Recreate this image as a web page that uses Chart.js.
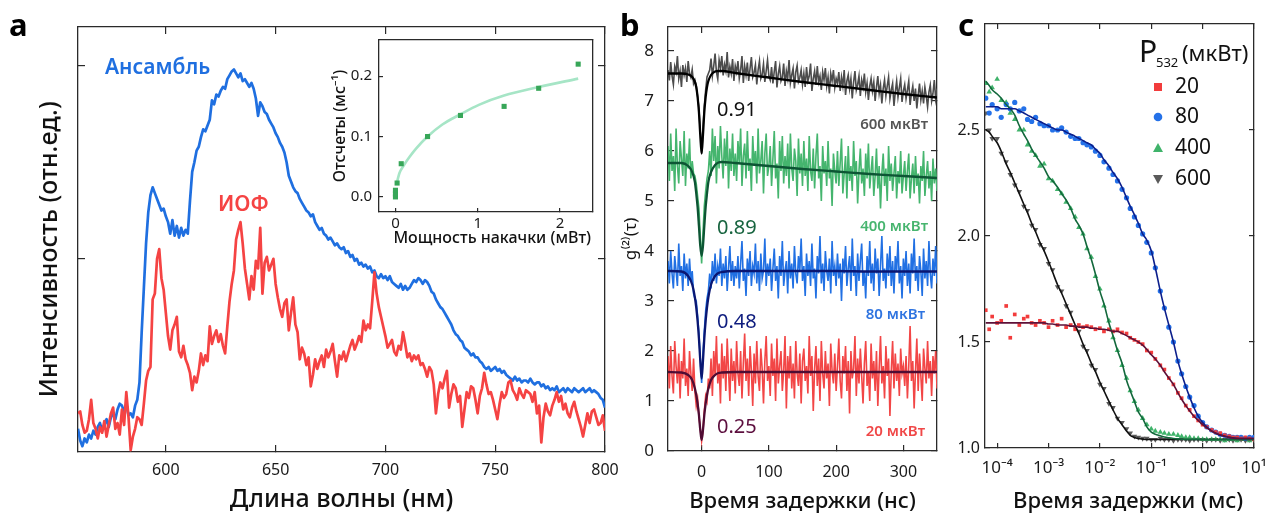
<!DOCTYPE html>
<html><head><meta charset="utf-8">
<script src="https://cdn.jsdelivr.net/npm/chart.js@4.4.1/dist/chart.umd.min.js"></script>
<style>
html,body{margin:0;padding:0;background:#fff;}
#wrap{position:relative;width:1278px;height:517px;overflow:hidden;background:#fff;}
canvas{position:absolute;}
</style></head><body>
<div id="wrap">
<canvas id="ca" width="620" height="517" style="left:0;top:0"></canvas>
<canvas id="ci" width="300" height="225" style="left:300px;top:30px"></canvas>
<canvas id="cb" width="350" height="517" style="left:600px;top:0"></canvas>
<canvas id="cc" width="328" height="517" style="left:950px;top:0"></canvas>
</div>
<script>
// ---------------- Panel a: spectra ----------------
const wavelengthStartNm = 560, wavelengthStepNm = 1;
const ensembleIntensity = [
0.12,0.06,0.03,0.07,0.05,0.09,0.07,0.11,0.09,0.13,
0.15,0.11,0.14,0.17,0.13,0.18,0.2,0.17,0.22,0.25,
0.24,0.21,0.25,0.19,0.2,0.18,0.24,0.27,0.36,0.62,
0.85,1.08,1.24,1.33,1.37,1.34,1.31,1.28,1.25,1.26,
1.22,1.19,1.13,1.2,1.12,1.17,1.11,1.16,1.12,1.15,
1.13,1.3,1.45,1.5,1.56,1.58,1.63,1.67,1.66,1.69,
1.72,1.82,1.8,1.85,1.84,1.87,1.89,1.88,1.93,1.95,
1.97,1.98,1.96,1.94,1.96,1.92,1.93,1.91,1.89,1.91,
1.88,1.83,1.74,1.81,1.79,1.76,1.75,1.72,1.7,1.68,
1.65,1.63,1.6,1.58,1.55,1.5,1.43,1.4,1.37,1.35,
1.34,1.31,1.29,1.27,1.25,1.24,1.22,1.23,1.19,1.17,
1.15,1.16,1.13,1.12,1.1,1.11,1.09,1.07,1.08,1.06,
1.05,1.06,1.03,1.04,1.01,1.02,0.99,1.0,0.97,0.98,
0.96,0.97,0.95,0.96,0.93,0.94,0.91,0.9,0.92,0.9,
0.91,0.89,0.91,0.88,0.87,0.86,0.85,0.87,0.84,0.86,
0.84,0.85,0.87,0.89,0.88,0.9,0.89,0.87,0.89,0.88,
0.86,0.83,0.82,0.79,0.77,0.75,0.74,0.72,0.7,0.68,
0.66,0.63,0.61,0.6,0.58,0.57,0.54,0.53,0.52,0.5,
0.51,0.49,0.49,0.47,0.46,0.44,0.43,0.44,0.42,0.43,
0.44,0.42,0.43,0.41,0.42,0.4,0.39,0.38,0.37,0.39,
0.37,0.38,0.36,0.37,0.37,0.36,0.38,0.36,0.35,0.36,
0.36,0.34,0.35,0.33,0.34,0.32,0.33,0.32,0.34,0.31,
0.32,0.33,0.31,0.33,0.32,0.31,0.33,0.32,0.31,0.32,
0.33,0.31,0.32,0.33,0.31,0.32,0.31,0.3,0.28,0.27,
0.23];
const singlePhotonIntensity = [
0.2,0.21,0.14,0.1,0.11,0.17,0.27,0.15,0.12,0.07,
0.13,0.1,0.16,0.08,0.14,0.2,0.23,0.12,0.15,0.09,
0.22,0.14,0.31,0.18,0.01,0.08,0.12,0.18,0.17,0.14,
0.25,0.37,0.42,0.44,0.79,0.82,1.0,1.05,0.9,0.84,
0.72,0.6,0.53,0.63,0.66,0.7,0.52,0.49,0.55,0.48,
0.45,0.41,0.32,0.39,0.36,0.42,0.51,0.45,0.5,0.47,
0.65,0.56,0.6,0.63,0.57,0.61,0.55,0.51,0.65,0.78,
0.87,0.94,1.1,1.15,1.19,1.08,0.95,0.87,0.79,0.91,
0.84,0.99,0.95,1.16,0.82,0.98,1.01,0.94,0.97,1.0,
0.87,0.8,0.74,0.7,0.77,0.79,0.63,0.72,0.8,0.66,
0.62,0.48,0.54,0.51,0.45,0.49,0.34,0.4,0.48,0.43,
0.47,0.5,0.44,0.53,0.49,0.52,0.56,0.47,0.39,0.5,
0.48,0.52,0.47,0.51,0.55,0.58,0.53,0.56,0.6,0.57,
0.68,0.63,0.66,0.64,0.78,0.93,0.82,0.75,0.7,0.65,
0.6,0.54,0.56,0.58,0.52,0.5,0.55,0.53,0.62,0.56,
0.49,0.51,0.47,0.5,0.48,0.5,0.45,0.46,0.43,0.39,
0.44,0.42,0.35,0.2,0.3,0.36,0.33,0.38,0.42,0.23,
0.3,0.35,0.33,0.26,0.29,0.13,0.22,0.31,0.28,0.34,
0.33,0.27,0.2,0.29,0.33,0.41,0.35,0.3,0.31,0.27,
0.22,0.17,0.25,0.31,0.28,0.3,0.36,0.37,0.32,0.3,
0.27,0.33,0.3,0.28,0.32,0.31,0.3,0.26,0.31,0.2,
0.24,0.05,0.18,0.25,0.21,0.19,0.24,0.27,0.31,0.26,
0.29,0.22,0.25,0.2,0.18,0.23,0.26,0.21,0.17,0.13,
0.08,0.14,0.2,0.15,0.21,0.22,0.18,0.14,0.15,0.19,
0.11];
const wavelengthTicks = [600, 650, 700, 750, 800];
const intensityTicks = [1, 2];

// inset
const pumpPowerMw = [0, 0, 0, 0.02, 0.07, 0.39, 0.79, 1.32, 1.74, 2.22];
const countsPerMs = [0.0, 0.005, 0.011, 0.023, 0.055, 0.1, 0.135, 0.15, 0.18, 0.22];
const fitPumpPowerMw = [0.01, 0.05, 0.1, 0.17, 0.25, 0.39, 0.57, 0.79, 1.02, 1.32, 1.74, 2.22];
const fitCountsPerMs = [0.02, 0.04, 0.052, 0.066, 0.08, 0.1, 0.12, 0.137, 0.153, 0.168, 0.182, 0.196];
const insetXTicks = [0, 1, 2];
const insetYTicks = [0, 0.1, 0.2];
const insetYLabels = ['0.0', '0.1', '0.2'];

// ---------------- Panel b: g2(tau) ----------------
const delayStartNs = -50, delayStepNs = 2;
const g2_600 = [
7.62,7.41,7.78,7.5,7.33,7.69,7.58,7.9,7.45,7.6,7.28,7.72,7.52,7.66,7.38,7.8,7.55,7.47,7.63,7.35,
7.42,7.3,7.1,6.85,6.4,5.95,6.45,6.9,7.22,7.48,7.55,
7.62,7.85,7.5,7.7,7.95,7.58,7.44,7.82,7.66,7.9,7.51,7.73,7.6,7.98,7.47,7.69,7.55,7.84,7.4,7.7,
7.58,7.8,7.45,7.62,7.9,7.36,7.7,7.52,7.77,7.4,7.65,7.88,7.48,7.57,7.72,7.33,7.62,7.8,7.45,7.53,7.74,7.38,7.6,7.82,7.5,
7.42,7.68,7.35,7.59,7.8,7.27,7.55,7.7,7.4,7.48,7.75,7.3,7.6,7.45,7.82,7.36,7.52,7.65,7.25,7.58,7.71,7.39,7.47,7.62,7.33,
7.55,7.28,7.68,7.4,7.5,7.75,7.2,7.45,7.6,7.32,7.7,7.38,7.5,7.22,7.58,7.42,7.66,7.3,7.48,7.15,7.55,7.4,7.62,7.27,7.45,
7.35,7.58,7.2,7.48,7.3,7.62,7.12,7.4,7.52,7.25,7.45,7.05,7.38,7.6,7.22,7.33,7.5,7.1,7.42,7.28,7.55,7.18,7.36,7.02,7.3,
7.45,7.2,7.38,7.0,7.28,7.5,7.15,7.32,6.95,7.25,7.42,7.1,7.3,7.48,7.05,7.22,7.35,6.9,7.18,7.4,7.08,7.27,7.45,6.98,7.2,
7.33,7.05,7.22,7.4,6.92,7.15,7.3,7.0,7.25,6.85,7.12,7.35,7.02,7.2,6.95,7.28,7.1,6.88,7.18,7.32,7.0,7.15,7.42,7.05,7.25];
const g2_400 = [
6.1,5.4,6.35,5.6,5.9,5.2,6.45,5.7,5.35,6.2,5.85,5.5,6.4,5.3,5.95,5.65,6.25,5.45,5.8,5.55,
5.5,5.35,5.1,4.85,4.3,3.75,4.35,4.9,5.2,5.45,5.6,
6.0,5.5,6.45,5.8,6.3,5.35,6.1,5.65,6.5,5.9,5.45,6.25,5.7,6.4,5.25,6.05,5.6,6.35,5.5,5.95,
5.4,6.2,5.75,6.45,5.3,5.9,6.15,5.45,6.4,5.6,5.85,5.2,6.3,5.7,6.0,5.35,6.45,5.55,5.8,6.2,5.15,5.95,6.35,5.5,5.7,
6.1,5.3,5.85,6.4,5.45,5.75,5.05,6.2,5.6,6.3,5.35,5.9,5.5,6.15,5.25,6.35,5.65,5.4,6.05,5.8,5.1,6.25,5.55,5.95,5.3,
6.2,5.5,5.85,5.2,6.3,5.6,5.4,6.05,5.25,5.9,6.35,5.45,5.7,5.0,6.1,5.55,5.8,5.3,6.2,5.45,5.65,4.9,5.95,5.6,5.35,
6.0,5.3,5.75,6.25,5.15,5.55,5.9,5.05,6.1,5.4,5.7,5.2,6.2,5.5,5.8,4.95,5.6,6.05,5.35,5.65,5.1,5.95,5.45,6.15,5.25,
5.6,5.9,5.1,5.5,6.05,5.25,5.7,4.85,5.55,5.95,5.3,5.65,5.0,6.1,5.4,5.75,5.2,5.55,5.9,5.05,5.6,5.35,6.0,5.15,5.5,
5.8,5.2,5.6,5.95,5.05,5.45,5.75,5.15,5.9,5.3,5.55,4.95,5.7,5.4,6.0,5.1,5.5,5.8,5.25,5.6,5.0,5.85,5.35,5.65,5.2];
const g2_80 = [
3.8,3.35,4.0,3.55,3.25,3.9,3.6,3.3,4.15,3.5,3.7,3.2,3.95,3.45,3.75,3.3,3.85,3.4,3.6,3.15,
3.05,3.0,2.7,2.35,1.85,1.36,1.95,2.4,2.8,3.05,3.2,
3.55,3.25,3.8,3.4,3.95,3.35,3.7,3.5,4.05,3.3,3.75,3.45,3.9,3.2,3.65,4.1,3.4,3.8,3.3,3.7,
3.45,3.9,3.25,3.75,4.2,3.4,3.65,3.1,3.85,3.5,4.0,3.3,3.7,3.55,4.15,3.35,3.8,3.2,3.95,3.45,3.6,4.25,3.3,3.75,3.5,
3.85,3.2,3.65,4.05,3.4,3.7,3.05,3.9,3.5,4.2,3.3,3.6,3.8,3.15,4.0,3.45,3.75,3.25,4.1,3.55,3.35,3.9,3.6,4.25,3.4,
3.7,3.1,3.95,3.5,3.8,3.3,4.15,3.45,3.65,3.05,3.9,3.55,4.3,3.35,3.75,3.2,4.0,3.6,3.4,3.85,3.15,4.2,3.5,3.7,3.3,
3.95,3.45,3.75,3.0,3.85,3.55,4.1,3.3,3.65,3.9,3.2,4.25,3.5,3.7,3.1,3.95,3.4,3.8,4.15,3.3,3.6,3.05,3.9,3.5,4.2,
3.35,3.75,3.2,4.05,3.55,3.85,3.1,3.7,4.3,3.4,3.65,3.25,3.95,3.5,4.1,3.3,3.8,3.15,3.9,3.6,4.2,3.35,3.7,3.05,3.85,
3.5,4.0,3.3,3.75,3.15,3.95,3.55,4.25,3.4,3.7,3.2,3.9,3.6,3.1,4.05,3.45,3.8,3.3,4.2,3.55,3.25,3.85,3.5,4.1,3.35];
const g2_20 = [
1.9,1.25,2.1,1.5,1.15,2.2,1.7,1.35,1.95,1.05,1.8,1.45,2.25,1.3,1.65,1.1,2.0,1.55,1.2,1.85,
1.2,0.9,1.05,0.7,0.45,0.2,0.4,0.8,1.1,1.0,1.45,
1.25,1.85,1.1,2.0,1.5,2.3,1.35,1.75,0.95,2.15,1.45,1.9,1.2,2.25,1.6,1.0,2.05,1.4,1.8,1.15,
2.2,1.55,1.3,2.0,1.05,1.75,2.35,1.4,1.85,1.1,2.1,1.6,0.9,1.95,1.35,2.2,1.5,1.2,2.05,1.65,0.95,1.8,2.3,1.4,1.7,
1.1,2.15,1.5,1.85,1.0,2.25,1.35,1.7,2.0,1.2,1.6,2.3,0.85,1.9,1.45,2.1,1.25,1.75,1.05,2.2,1.55,1.3,1.95,0.95,1.8,
2.05,1.4,1.7,1.15,2.3,1.5,1.9,0.8,1.65,2.1,1.3,1.85,1.0,2.2,1.55,1.25,2.0,1.45,1.75,0.9,2.15,1.6,1.35,1.95,1.2,
1.7,2.25,1.4,1.05,1.9,1.55,2.1,1.2,1.8,0.75,2.0,1.45,1.65,2.3,1.1,1.85,1.35,2.05,1.5,0.95,1.75,2.2,1.3,1.6,1.0,
2.15,1.45,1.8,1.2,2.0,0.9,1.65,2.3,1.35,1.7,1.05,2.1,1.5,1.85,0.7,1.6,2.2,1.25,1.95,1.4,1.75,1.1,2.05,1.55,1.7,
1.3,1.9,1.05,1.7,2.5,1.4,1.8,0.85,1.6,2.25,1.2,1.95,1.5,1.0,2.05,1.65,1.35,2.2,1.45,1.8,1.1,1.9,1.55,2.0,1.25];
const fitDelayNs = [-50,-30,-20,-14,-10,-8,-6,-4,-2,0,2,4,6,8,10,14,20,25,30,50,100,150,200,250,300,350];
const fit_600 = [7.55,7.55,7.53,7.48,7.38,7.28,7.08,6.78,6.32,5.95,6.32,6.78,7.08,7.28,7.4,7.52,7.59,7.6,7.6,7.56,7.47,7.38,7.3,7.22,7.14,7.07];
const fit_400 = [5.76,5.76,5.7,5.58,5.38,5.15,4.88,4.5,4.1,3.9,4.1,4.5,4.88,5.15,5.38,5.58,5.72,5.77,5.78,5.76,5.7,5.64,5.59,5.54,5.5,5.46];
const fit_80 = [3.6,3.59,3.5,3.33,3.07,2.87,2.6,2.25,1.8,1.45,1.8,2.25,2.6,2.87,3.07,3.33,3.5,3.56,3.58,3.6,3.6,3.6,3.6,3.59,3.59,3.59];
const fit_20 = [1.58,1.57,1.52,1.42,1.25,1.12,0.95,0.72,0.42,0.22,0.42,0.72,0.95,1.12,1.25,1.42,1.52,1.56,1.57,1.58,1.58,1.58,1.58,1.58,1.58,1.58];
const delayTicksNs = [0, 100, 200, 300];
const g2Ticks = [0, 1, 2, 3, 4, 5, 6, 7, 8];

// ---------------- Panel c: long-time g2 ----------------
const delayMs = [6e-5,7e-5,8e-5,
1e-4,1.2e-4,1.5e-4,1.8e-4,2.2e-4,2.7e-4,3.3e-4,3.9e-4,4.7e-4,5.6e-4,6.8e-4,8.2e-4,
1e-3,1.2e-3,1.5e-3,1.8e-3,2.2e-3,2.7e-3,3.3e-3,3.9e-3,4.7e-3,5.6e-3,6.8e-3,8.2e-3,
1e-2,1.2e-2,1.5e-2,1.8e-2,2.2e-2,2.7e-2,3.3e-2,3.9e-2,4.7e-2,5.6e-2,6.8e-2,8.2e-2,
0.1,0.12,0.15,0.18,0.22,0.27,0.33,0.39,0.47,0.56,0.68,0.82,
1,1.2,1.5,1.8,2.2,2.7,3.3,3.9,4.7,5.6,6.8,8.2,10];
const pts_20 = [1.65,1.56,1.62,1.59,1.6,1.67,1.52,1.63,1.58,1.61,1.62,1.59,1.58,1.6,1.59,
1.57,1.6,1.58,1.61,1.57,1.58,1.56,1.58,1.57,1.575,1.57,1.56,1.565,1.55,1.56,1.55,1.56,1.545,1.54,1.52,1.51,
1.5,1.49,1.46,1.45,1.42,1.39,1.37,1.33,1.3,1.26,1.235,1.2,1.18,1.15,1.13,1.11,1.1,1.085,1.075,1.07,1.06,1.055,1.05,1.05,1.045,1.05,1.045,1.04];
const pts_80 = [2.65,2.58,2.62,2.6,2.56,2.62,2.6,2.63,2.59,2.6,2.55,2.54,2.56,2.53,2.52,
2.52,2.5,2.5,2.51,2.49,2.47,2.46,2.46,2.44,2.43,2.42,2.4,2.38,2.35,2.32,2.29,2.26,2.22,2.18,2.13,2.09,
2.05,2.01,1.97,1.92,1.85,1.74,1.66,1.57,1.5,1.41,1.35,1.29,1.24,1.2,1.15,1.12,1.1,1.085,1.075,1.065,1.06,1.055,1.05,1.05,1.05,1.045,1.05,1.05];
const pts_400 = [2.72,2.68,2.7,2.74,2.64,2.63,2.58,2.55,2.5,2.5,2.43,2.4,2.38,2.33,2.34,
2.27,2.26,2.22,2.2,2.16,2.13,2.09,2.04,2.01,1.94,1.9,1.81,1.75,1.67,1.6,1.52,1.46,1.39,1.33,1.27,1.22,
1.18,1.14,1.11,1.09,1.08,1.075,1.07,1.065,1.065,1.06,1.055,1.05,1.05,1.045,1.045,1.04,1.04,1.04,1.04,1.04,1.035,1.04,1.04,1.035,1.04,1.04,1.035,1.04];
const pts_600 = [2.58,2.5,2.46,2.46,2.39,2.35,2.29,2.24,2.21,2.14,2.12,2.05,2.03,1.96,1.94,
1.87,1.84,1.76,1.74,1.67,1.64,1.57,1.55,1.48,1.46,1.39,1.37,1.3,1.28,1.21,1.19,1.14,1.12,1.09,1.07,1.055,
1.05,1.045,1.045,1.04,1.04,1.045,1.04,1.04,1.035,1.04,1.04,1.04,1.035,1.04,1.04,1.04,1.035,1.04,1.04,1.035,1.04,1.04,1.035,1.04,1.04,1.035,1.04,1.04];
const fitc_20 = [1.59,1.59,1.59,1.59,1.59,1.59,1.59,1.59,1.59,1.59,1.59,1.59,1.59,1.59,1.59,
1.585,1.585,1.58,1.58,1.58,1.575,1.575,1.57,1.57,1.57,1.565,1.565,1.56,1.56,1.555,1.55,1.55,1.54,1.53,1.52,1.51,
1.5,1.485,1.465,1.44,1.42,1.39,1.36,1.33,1.3,1.26,1.23,1.2,1.175,1.15,1.13,1.11,1.095,1.08,1.07,1.062,1.055,1.05,1.047,1.045,1.045,1.045,1.045,1.045];
const fitc_80 = [2.61,2.61,2.61,2.61,2.6,2.6,2.6,2.6,2.59,2.58,2.57,2.56,2.55,2.54,2.53,
2.52,2.51,2.5,2.5,2.49,2.48,2.47,2.46,2.45,2.44,2.43,2.41,2.39,2.36,2.33,2.3,2.27,2.23,2.18,2.14,2.1,
2.06,2.01,1.98,1.93,1.85,1.74,1.66,1.58,1.5,1.41,1.35,1.29,1.24,1.19,1.15,1.12,1.1,1.08,1.07,1.06,1.055,1.05,1.048,1.046,1.045,1.045,1.045,1.045];
const fitc_400 = [2.73,2.71,2.69,2.67,2.65,2.62,2.6,2.57,2.52,2.48,2.45,2.41,2.38,2.35,2.32,
2.28,2.26,2.23,2.2,2.17,2.13,2.08,2.05,2.01,1.95,1.89,1.82,1.74,1.68,1.59,1.53,1.46,1.4,1.32,1.27,1.22,
1.17,1.14,1.1,1.075,1.065,1.058,1.052,1.048,1.045,1.043,1.042,1.04,1.04,1.04,1.04,1.04,1.04,1.04,1.04,1.04,1.04,1.04,1.04,1.04,1.04,1.04,1.04,1.04];
const fitc_600 = [2.5,2.49,2.47,2.44,2.4,2.34,2.3,2.25,2.2,2.15,2.11,2.06,2.02,1.97,1.93,
1.88,1.83,1.77,1.73,1.68,1.63,1.58,1.54,1.49,1.45,1.4,1.36,1.31,1.27,1.22,1.18,1.14,1.11,1.08,1.06,1.05,
1.045,1.042,1.04,1.04,1.04,1.04,1.04,1.04,1.04,1.04,1.04,1.04,1.04,1.04,1.04,1.04,1.04,1.04,1.04,1.04,1.04,1.04,1.04,1.04,1.04,1.04,1.04,1.04];
const delayTicksMs = [1e-4, 1e-3, 1e-2, 1e-1, 1, 10];
const delayTickLabelsMs = ['10\u207B\u2074','10\u207B\u00B3','10\u207B\u00B2','10\u207B\u00B9','10\u2070','10\u00B9'];
const g2cTicks = [1.0, 1.5, 2.0, 2.5];
const g2cLabels = ['1.0', '1.5', '2.0', '2.5'];
const powerLegend = ['20', '80', '400', '600'];

// ---------------- helpers ----------------
const FONT = '"Noto Sans", "DejaVu Sans", sans-serif';
const AXC = '#2a2a2a';
const BLUE = '#1f6fe0', RED = '#f54343';
Chart.defaults.font.family = FONT;
Chart.defaults.animation = false;

function axis(o) {
  return {
    type: o.type || 'linear',
    position: o.position,
    min: o.min, max: o.max,
    afterBuildTicks: s => { s.ticks = o.ticks.map(v => ({value: v})); },
    afterFit: s => {
      if (o.position === 'top' || o.position === 'bottom') s.height = o.size; else s.width = o.size;
      s.paddingLeft = 0; s.paddingRight = 0; s.paddingTop = 0; s.paddingBottom = 0;
    },
    grid: {display: true, drawOnChartArea: false, drawTicks: true, tickLength: -(o.tl || 7), color: AXC, tickColor: AXC, lineWidth: 1.2},
    border: {display: true, color: AXC, width: 1.3},
    ticks: {display: !!o.labels, autoSkip: false, maxRotation: 0, minRotation: 0, padding: o.pad || 0, color: '#1a1a1a',
            font: {family: FONT, size: o.fs || 16}, callback: (v, i) => o.labels ? o.labels[i] : ''},
    title: o.title ? {display: true, text: o.title, color: '#111', font: {family: FONT, size: o.tfs, weight: o.tw || '500'}, padding: o.tpad} : {display: false}
  };
}
function xy(xs, ys) { return ys.map((y, i) => ({x: xs[i], y})); }
function textPlugin(id, fn) { return {id, afterDraw(chart) { const c = chart.ctx; c.save(); fn(c, chart); c.restore(); }}; }
function txt(c, s, x, y, font, color, align, base) {
  c.font = font; c.fillStyle = color; c.textAlign = align || 'left'; c.textBaseline = base || 'middle'; c.fillText(s, x, y);
}
const baseOpts = {responsive: false, animation: false, events: [], plugins: {legend: {display: false}, tooltip: {enabled: false}}};

// ---------------- Chart a ----------------
const lambdaNm = ensembleIntensity.map((_, i) => wavelengthStartNm + i * wavelengthStepNm);
new Chart(document.getElementById('ca'), {
  type: 'scatter',
  data: {datasets: [
    {data: xy(lambdaNm, singlePhotonIntensity), showLine: true, borderColor: RED, borderWidth: 2.7, pointRadius: 0, order: 0, borderJoinStyle: 'round'},
    {data: xy(lambdaNm, ensembleIntensity), showLine: true, borderColor: BLUE, borderWidth: 2.7, pointRadius: 0, order: 1, borderJoinStyle: 'round'}
  ]},
  options: Object.assign({}, baseOpts, {
    layout: {padding: {left: 0, right: 15, top: 27, bottom: 0}},
    scales: {
      x: axis({position: 'bottom', min: 560, max: 800, ticks: wavelengthTicks, labels: wavelengthTicks.map(String), size: 65, pad: 16, fs: 16,
               title: 'Длина волны (нм)', tfs: 25, tpad: {top: 0, bottom: 2.2}}),
      x2: axis({position: 'top', min: 560, max: 800, ticks: wavelengthTicks, size: 0}),
      y: axis({position: 'left', min: 0, max: 2.2, ticks: intensityTicks, size: 78,
               title: 'Интенсивность (отн.ед.)   ', tfs: 25, tpad: {top: 35, bottom: 0}}),
      y2: axis({position: 'right', min: 0, max: 2.2, ticks: intensityTicks, size: 0})
    }
  }),
  plugins: [textPlugin('ta', c => {
    txt(c, 'a', 9, 36, 'bold 31px ' + FONT, '#000', 'left', 'alphabetic');
    txt(c, 'Ансамбль', 105, 68, '600 21px ' + FONT, BLUE);
    txt(c, 'ИОФ', 218, 205, '600 21px ' + FONT, RED);
  })]
});

// ---------------- Inset ----------------
new Chart(document.getElementById('ci'), {
  type: 'scatter',
  data: {datasets: [
    {data: xy(fitPumpPowerMw, fitCountsPerMs), showLine: true, borderColor: '#a6e5c6', borderWidth: 2.6, pointRadius: 0, cubicInterpolationMode: 'monotone', order: 1},
    {data: xy(pumpPowerMw, countsPerMs), pointStyle: 'rect', pointRadius: 3.6, backgroundColor: '#37a658', borderWidth: 0, order: 0}
  ]},
  options: Object.assign({}, baseOpts, {
    layout: {padding: {left: 0, right: 7, top: 10, bottom: 0}},
    scales: {
      x: axis({position: 'bottom', min: -0.2, max: 2.4, ticks: insetXTicks, labels: insetXTicks.map(String), size: 43, pad: 7, fs: 15, tl: 4,
               title: '   Мощность накачки (мВт)', tfs: 16, tpad: {top: 0, bottom: 7.4}}),
      x2: axis({position: 'top', min: -0.2, max: 2.4, ticks: [], size: 0}),
      y: axis({position: 'left', min: -0.025, max: 0.26, ticks: insetYTicks, labels: insetYLabels, size: 79, pad: 11, fs: 15, tl: 4,
               title: 'Отсчеты (мс\u207B\u00B9)', tfs: 16, tpad: {top: 30.4, bottom: 0}}),
      y2: axis({position: 'right', min: -0.025, max: 0.26, ticks: [], size: 0})
    }
  }),
  plugins: [{id: 'insetBg', beforeDraw(chart) {
    const a = chart.chartArea, c = chart.ctx;
    c.save(); c.fillStyle = '#fff'; c.fillRect(20, a.top - 3, a.right - 20 + 3, a.bottom - a.top + 6); c.restore();
  }}]
});

// ---------------- Chart b ----------------
const tauNs = g2_600.map((_, i) => delayStartNs + i * delayStepNs);
function trace(ys, color, order) { return {data: xy(tauNs, ys), showLine: true, borderColor: color, borderWidth: 1.6, pointRadius: 0, order}; }
function fitLine(xs, ys, color, order, w) { return {data: xy(xs, ys), showLine: true, borderColor: color, borderWidth: w || 2.3, pointRadius: 0, cubicInterpolationMode: 'monotone', order}; }
new Chart(document.getElementById('cb'), {
  type: 'scatter',
  data: {datasets: [
    fitLine(fitDelayNs, fit_600, '#000000', 0),
    fitLine(fitDelayNs, fit_400, '#0d5534', 0),
    fitLine(fitDelayNs, fit_80, '#0a1772', 0),
    fitLine(fitDelayNs, fit_20, '#4f0c34', 0),
    trace(g2_20, '#f24646', 1),
    trace(g2_80, '#2170e3', 2),
    trace(g2_400, '#45b56e', 3),
    trace(g2_600, '#4c4c4c', 4)
  ]},
  options: Object.assign({}, baseOpts, {
    layout: {padding: {left: 0, right: 13, top: 27, bottom: 0}},
    scales: {
      x: axis({position: 'bottom', min: -50, max: 350, ticks: delayTicksNs, labels: delayTicksNs.map(String), size: 66, pad: 18, fs: 16, tl: 6,
               title: 'Время задержки (нс)', tfs: 22, tpad: {top: 0, bottom: 1.8}}),
      x2: axis({position: 'top', min: -50, max: 350, ticks: delayTicksNs, size: 0, tl: 6}),
      y: axis({position: 'left', min: 0, max: 8.48, ticks: g2Ticks, labels: g2Ticks.map(String), size: 68, pad: 20, fs: 17, tl: 6,
               title: 'g\u207D\u00B2\u207E(\u03C4)', tfs: 17, tw: '400', tpad: {top: 21, bottom: 0}}),
      y2: axis({position: 'right', min: 0, max: 8.48, ticks: g2Ticks, size: 0, tl: 6})
    }
  }),
  plugins: [textPlugin('tb', c => {
    txt(c, 'b', 20, 36, 'bold 31px ' + FONT, '#000', 'left', 'alphabetic');
    const big = '20px ' + FONT, small = '600 15px ' + FONT;
    txt(c, '0.91', 117, 110, big, '#111');
    txt(c, '600 мкВт', 328, 125, small, '#555', 'right');
    txt(c, '0.89', 117, 228, big, '#17643f');
    txt(c, '400 мкВт', 328, 227, small, '#47b56f', 'right');
    txt(c, '0.48', 117, 322, big, '#0e1c7e');
    txt(c, '80 мкВт', 325, 315, small, '#2f74e0', 'right');
    txt(c, '0.25', 117, 427, big, '#5c0e3e');
    txt(c, '20 мкВт', 325, 432, small, '#f04848', 'right');
  })]
});

// ---------------- Chart c ----------------
function pts(ys, color, style, rot, order, r) { return {data: xy(delayMs, ys), pointStyle: style, rotation: rot || 0, pointRadius: r || 2.6, backgroundColor: color, borderWidth: 0, order}; }
function fitC(ys, color) { return {data: xy(delayMs, ys), showLine: true, borderColor: color, borderWidth: 1.6, pointRadius: 0, cubicInterpolationMode: 'monotone', order: 0}; }
new Chart(document.getElementById('cc'), {
  type: 'scatter',
  data: {datasets: [
    fitC(fitc_20, '#5e1138'), fitC(fitc_80, '#0c1f8c'), fitC(fitc_400, '#13683c'), fitC(fitc_600, '#111111'),
    pts(pts_20, '#f23c3c', 'rect', 0, 1, 2.6),
    pts(pts_80, '#2471e8', 'circle', 0, 1, 2.6),
    pts(pts_400, '#3fb36a', 'triangle', 0, 1, 3.2),
    pts(pts_600, '#5a5a5a', 'triangle', 180, 1, 3.2)
  ]},
  options: Object.assign({}, baseOpts, {
    layout: {padding: {left: 0, right: 24, top: 24, bottom: 0}},
    scales: {
      x: axis({type: 'logarithmic', position: 'bottom', min: 5.8e-5, max: 10, ticks: delayTicksMs, labels: delayTickLabelsMs, size: 69, pad: 15, fs: 17, tl: 5,
               title: '   Время задержки (мс)', tfs: 22, tpad: {top: 0, bottom: 1.8}}),
      x2: axis({type: 'logarithmic', position: 'top', min: 5.8e-5, max: 10, ticks: delayTicksMs, size: 0, tl: 5}),
      y: axis({position: 'left', min: 1.0, max: 3.0, ticks: g2cTicks, labels: g2cLabels, size: 35, pad: 10, fs: 16, tl: 5}),
      y2: axis({position: 'right', min: 1.0, max: 3.0, ticks: g2cTicks, size: 0, tl: 5})
    }
  }),
  plugins: [textPlugin('tc', c => {
    txt(c, 'c', 8, 36, 'bold 31px ' + FONT, '#000', 'left', 'alphabetic');
    txt(c, 'P', 189, 62, '30px ' + FONT, '#111', 'left', 'alphabetic');
    txt(c, '532', 206, 67, '13px ' + FONT, '#111', 'left', 'alphabetic');
    txt(c, '(мкВт)', 232, 61, '22px ' + FONT, '#111', 'left', 'alphabetic');
    const ys = [87, 117, 148, 179];
    const cols = ['#f23c3c', '#2471e8', '#3fb36a', '#5a5a5a'];
    const mx = 208;
    c.fillStyle = cols[0]; c.fillRect(mx - 4, ys[0] - 4, 8, 8);
    c.fillStyle = cols[1]; c.beginPath(); c.arc(mx, ys[1], 4.3, 0, Math.PI * 2); c.fill();
    c.fillStyle = cols[2]; c.beginPath(); c.moveTo(mx - 5, ys[2] + 4); c.lineTo(mx + 5, ys[2] + 4); c.lineTo(mx, ys[2] - 5); c.closePath(); c.fill();
    c.fillStyle = cols[3]; c.beginPath(); c.moveTo(mx - 5, ys[3] - 4); c.lineTo(mx + 5, ys[3] - 4); c.lineTo(mx, ys[3] + 5); c.closePath(); c.fill();
    powerLegend.forEach((s, i) => txt(c, s, 225, ys[i], '21px ' + FONT, '#111'));
  })]
});
</script>
</body></html>
